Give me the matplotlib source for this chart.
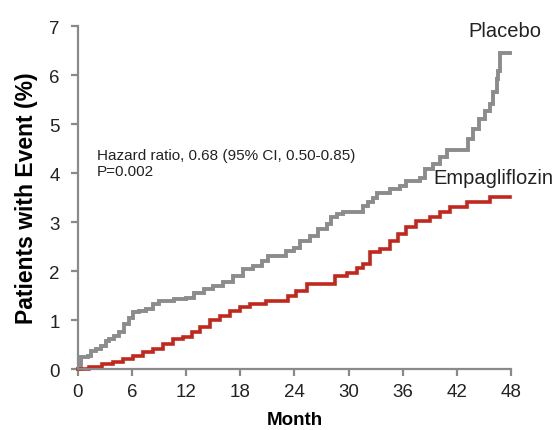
import matplotlib
matplotlib.use("Agg")
import matplotlib.pyplot as plt


# cumulative incidence (month, %)
placebo_month = [0, 0.3, 1.1, 1.45, 2.0, 2.55, 3.1, 3.5, 4.0, 4.6, 5.1, 5.7, 6.1, 6.8,
                 7.5, 8.3, 9.0, 10.7, 12.0, 12.9, 14.0, 15.0, 16.1, 17.2, 18.3, 19.4,
                 20.4, 21.1, 23.1, 24.0, 24.6, 25.7, 26.6, 27.6, 28.1, 28.7, 29.4, 31.6,
                 32.2, 32.7, 33.1, 34.6, 35.7, 36.4, 37.9, 38.5, 39.4, 40.1, 40.9, 43.2,
                 43.8, 44.4, 45.1, 45.7, 46.0, 46.4, 46.6, 46.8, 47.9]
placebo_pct = [0, 0.24, 0.27, 0.37, 0.41, 0.48, 0.58, 0.61, 0.68, 0.75, 0.92, 1.05, 1.16, 1.19,
               1.22, 1.33, 1.39, 1.43, 1.46, 1.56, 1.63, 1.7, 1.77, 1.9, 2.04, 2.11,
               2.21, 2.31, 2.41, 2.48, 2.62, 2.72, 2.86, 2.96, 3.1, 3.16, 3.2, 3.33,
               3.42, 3.5, 3.6, 3.67, 3.74, 3.84, 3.91, 4.08, 4.18, 4.33, 4.47, 4.7,
               4.9, 5.1, 5.27, 5.41, 5.65, 5.92, 6.09, 6.46, 6.46]

empa_month = [0, 1.25, 2.7, 3.85, 5.0, 6.1, 7.2, 8.3, 9.4, 10.5, 11.6, 12.7, 13.5, 14.6,
              15.7, 16.9, 18.0, 19.1, 20.9, 23.3, 24.2, 25.4, 28.5, 29.8, 30.9, 31.6,
              32.4, 33.5, 34.6, 35.5, 36.4, 37.5, 39.0, 40.1, 41.2, 43.1, 45.7, 47.9]
empa_pct = [0, 0.05, 0.1, 0.14, 0.2, 0.26, 0.34, 0.41, 0.51, 0.61, 0.65, 0.75, 0.85, 1.0,
            1.09, 1.19, 1.26, 1.33, 1.38, 1.5, 1.6, 1.73, 1.9, 1.97, 2.07, 2.14,
            2.38, 2.45, 2.62, 2.76, 2.89, 3.03, 3.1, 3.2, 3.3, 3.4, 3.52, 3.52]

x_ticks = [0, 6, 12, 18, 24, 30, 36, 42, 48]
y_ticks = [0, 1, 2, 3, 4, 5, 6, 7]

plt.rcParams["font.family"] = ["Liberation Sans", "DejaVu Sans"]

fig = plt.figure(figsize=(5.6, 4.31), dpi=100)
ax = fig.add_axes([0.139, 0.1415, 0.7735, 0.7955])

ax.plot(placebo_month, placebo_pct, drawstyle="steps-post", color="#8c8c8c",
        lw=2.8, clip_on=False, solid_joinstyle="miter")
ax.plot(empa_month, empa_pct, drawstyle="steps-post", color="#c0281e",
        lw=2.6, clip_on=False, solid_joinstyle="miter")

ax.set_xlim(0, 48)
ax.set_ylim(0, 7)
ax.set_xticks(x_ticks)
ax.set_yticks(y_ticks)

for side in ("top", "right"):
    ax.spines[side].set_visible(False)
for side in ("left", "bottom"):
    ax.spines[side].set_color("#8a8a8a")
    ax.spines[side].set_linewidth(1.6)
ax.tick_params(direction="out", length=5, width=1.6, color="#8a8a8a",
               labelsize=13.5, labelcolor="#222222")
ax.tick_params(axis="x", pad=5)
ax.tick_params(axis="y", pad=8)

ax.set_xlabel("Month", fontsize=13.5, fontweight="bold", labelpad=8)
ax.set_ylabel("Patients with Event (%)", fontsize=16.5, fontweight="bold", labelpad=8)

ax.text(47.3, 6.92, "Placebo", fontsize=14.5, ha="center", va="center", color="#222222")
ax.text(46.1, 3.92, "Empagliflozin", fontsize=14.5, ha="center", va="center", color="#222222")
ax.text(2.1, 4.21, "Hazard ratio, 0.68 (95% CI, 0.50-0.85)\nP=0.002", fontsize=11,
        ha="left", va="center", color="#222222", linespacing=1.15)

fig.savefig("out.png", dpi=100)
